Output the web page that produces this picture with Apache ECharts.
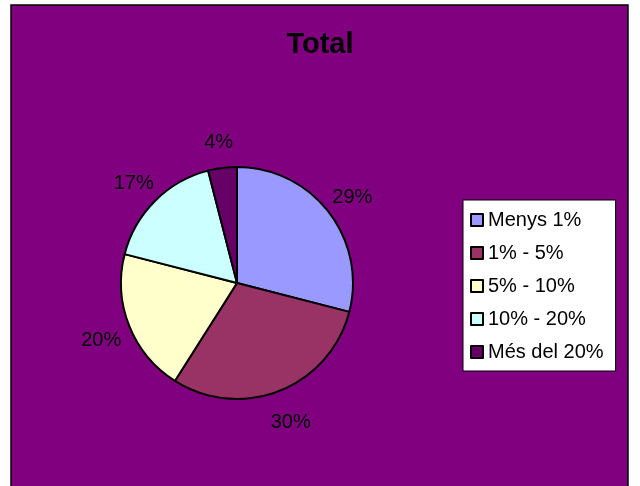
<!DOCTYPE html>
<html>
<head>
<meta charset="utf-8">
<title>Total</title>
<script src="https://cdn.jsdelivr.net/npm/echarts@6/dist/echarts.min.js"></script>
<style>
  html, body { margin: 0; padding: 0; background: #fff; }
  #chart { width: 640px; height: 486px; }
</style>
</head>
<body>
<div id="chart"></div>
<script>
// dades del gràfic
var categories = ['Menys 1%', '1% - 5%', '5% - 10%', '10% - 20%', 'Més del 20%'];
var values = [29, 30, 20, 17, 4];
var colors = ['#9999FF', '#993366', '#FFFFCC', '#CCFFFF', '#660066'];

var chart = echarts.init(document.getElementById('chart'));

var pieData = [];
var labelData = [];
for (var i = 0; i < categories.length; i++) {
  pieData.push({ name: categories[i], value: values[i], itemStyle: { color: colors[i] } });
  labelData.push({ name: categories[i], value: values[i] });
}

var option = {
  backgroundColor: '#ffffff',
  animation: false,
  graphic: [{
    type: 'rect',
    shape: { x: 11, y: 5, width: 617, height: 490 },
    style: { fill: '#800080', stroke: '#000', lineWidth: 1.5 },
    z: -10
  }],
  title: {
    text: 'Total',
    left: 'center',
    top: 30,
    padding: 0,
    textStyle: { fontFamily: 'Liberation Sans, Arial', fontSize: 29, fontWeight: 'bold', color: '#000' }
  },
  legend: {
    orient: 'vertical',
    left: 463,
    top: 200,
    data: categories,
    icon: 'rect',
    itemWidth: 12,
    itemHeight: 12,
    itemGap: 13,
    padding: [10, 12, 9, 7],
    backgroundColor: '#fff',
    borderColor: '#000',
    borderWidth: 1,
    borderRadius: 0,
    itemStyle: { borderColor: '#000', borderWidth: 2 },
    textStyle: { fontFamily: 'Liberation Sans, Arial', fontSize: 20, color: '#000' }
  },
  series: [
    {
      name: 'Total',
      type: 'pie',
      center: [237, 283],
      radius: [0, 116],
      startAngle: 90,
      clockwise: true,
      silent: true,
      label: { show: false },
      labelLine: { show: false },
      itemStyle: { borderColor: '#000', borderWidth: 2 },
      data: pieData
    },
    {
      name: 'etiquetes',
      type: 'pie',
      center: [237, 287],
      radius: [116, 170],
      startAngle: 90,
      clockwise: true,
      silent: true,
      itemStyle: { color: 'transparent', borderWidth: 0 },
      label: {
        show: true,
        position: 'inside',
        formatter: '{c}%',
        fontFamily: 'Liberation Sans, Arial',
        fontSize: 20,
        color: '#000'
      },
      labelLine: { show: false },
      data: labelData
    }
  ]
};

chart.setOption(option);
</script>
</body>
</html>
